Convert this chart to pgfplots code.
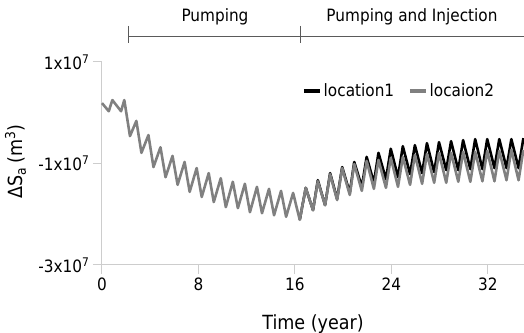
\documentclass[border=0pt]{standalone}
\usepackage{fontspec}
\setmainfont{DejaVu Sans}[FakeStretch=0.9]
\usepackage{pgfplots}
\pgfplotsset{compat=1.18}
\definecolor{axgray}{RGB}{205,205,205}
\definecolor{sergray}{RGB}{128,128,128}
\definecolor{anngray}{RGB}{90,90,90}
\begin{document}
\begin{tikzpicture}[font=\fontsize{17}{20}\selectfont]
\begin{axis}[
  name=ax,
  scale only axis, width=422pt, height=203pt,
  xmin=0, xmax=35, ymin=-3e7, ymax=1e7,
  axis lines*=left,
  axis line style={axgray, line width=1pt},
  tick style={axgray, line width=1pt},
  tick align=outside, major tick length=9pt,
  xtick={0,8,16,24,32},
  ytick={-3e7,-1e7,1e7},
  yticklabels={-3x10\textsuperscript{7},-1x10\textsuperscript{7},1x10\textsuperscript{7}},
  scaled y ticks=false,
  /pgf/number format/assume math mode=true,
  xlabel={Time (year)},
  ylabel={ΔS\textsubscript{a}\,(m\textsuperscript{3})},
  label style={font=\fontsize{19.5}{22}\selectfont},
  xlabel style={at={(axis description cs:0.5,-0.29)}, anchor=center},
  ylabel style={at={(axis description cs:-0.205,0.51)}, anchor=center},
  clip=false,
  legend style={at={(0.474,0.857)}, anchor=west, draw=none, fill=none,
    legend columns=-1, inner sep=0pt,
    /tikz/every even column/.append style={column sep=12pt}},
  legend image code/.code={\draw[#1, line width=3.5pt] (0pt,0pt) -- (16pt,0pt);},
]
\addplot[black, line width=2.6pt, line join=round] coordinates {
(16.4,-2.11e7) (16.9,-1.48e7) (17.5,-1.92e7) (17.9,-1.33e7) (18.5,-1.82e7)
(18.92,-1.19e7) (19.5,-1.70e7) (19.92,-1.07e7) (20.55,-1.58e7) (20.92,-0.97e7)
(21.55,-1.46e7) (21.95,-0.87e7) (22.55,-1.38e7) (22.93,-0.79e7) (23.55,-1.31e7)
(23.95,-0.71e7) (24.55,-1.27e7) (24.95,-0.66e7) (25.55,-1.21e7) (25.95,-0.64e7)
(26.55,-1.19e7) (26.95,-0.60e7) (27.55,-1.17e7) (27.95,-0.58e7) (28.55,-1.13e7)
(28.95,-0.56e7) (29.55,-1.13e7) (29.95,-0.54e7) (30.55,-1.11e7) (30.95,-0.52e7)
(31.55,-1.11e7) (31.95,-0.52e7) (32.55,-1.09e7) (32.95,-0.52e7) (33.55,-1.09e7)
(33.95,-0.52e7) (34.55,-1.09e7) (34.95,-0.50e7)
};
\addlegendentry{location1}
\addplot[sergray, line width=2.6pt, line join=round] coordinates {
(0,0.19e7) (0.56,0.03e7) (0.86,0.25e7) (1.58,0.03e7) (1.85,0.25e7)
(2.32,-0.46e7) (2.85,-0.16e7) (3.27,-0.79e7) (3.85,-0.44e7) (4.27,-1.07e7)
(4.85,-0.68e7) (5.27,-1.27e7) (5.85,-0.85e7) (6.27,-1.42e7) (6.85,-0.97e7)
(7.27,-1.56e7) (7.85,-1.09e7) (8.27,-1.66e7) (8.85,-1.19e7) (9.27,-1.76e7)
(9.85,-1.29e7) (10.27,-1.86e7) (10.85,-1.36e7) (11.27,-1.88e7) (11.85,-1.40e7)
(12.27,-1.96e7) (12.85,-1.46e7) (13.27,-1.98e7) (13.85,-1.50e7) (14.27,-2.02e7)
(14.85,-1.54e7) (15.27,-2.05e7) (15.85,-1.58e7) (16.4,-2.11e7) (16.9,-1.48e7)
(17.5,-1.92e7) (17.9,-1.35e7) (18.5,-1.82e7) (18.92,-1.21e7) (19.5,-1.72e7)
(19.92,-1.09e7) (20.55,-1.62e7) (20.92,-1.01e7) (21.55,-1.54e7) (21.95,-0.95e7)
(22.55,-1.50e7) (22.93,-0.93e7) (23.55,-1.48e7) (23.95,-0.89e7) (24.55,-1.46e7)
(24.95,-0.87e7) (25.55,-1.42e7) (25.95,-0.83e7) (26.55,-1.40e7) (26.95,-0.81e7)
(27.55,-1.38e7) (27.95,-0.79e7) (28.55,-1.38e7) (28.95,-0.79e7) (29.55,-1.36e7)
(29.95,-0.77e7) (30.55,-1.36e7) (30.95,-0.77e7) (31.55,-1.35e7) (31.95,-0.75e7)
(32.55,-1.35e7) (32.95,-0.75e7) (33.55,-1.33e7) (33.95,-0.73e7) (34.55,-1.33e7)
(34.95,-0.73e7)
};
\addlegendentry{locaion2}
\draw[anngray, line width=0.9pt] (axis cs:2.16,1.512e7) -- (axis cs:35,1.512e7);
\draw[anngray, line width=0.9pt] (axis cs:2.16,1.71e7) -- (axis cs:2.16,1.37e7);
\draw[anngray, line width=0.9pt] (axis cs:16.42,1.71e7) -- (axis cs:16.42,1.37e7);
\node[anchor=center] at (axis cs:9.37,1.89e7) {Pumping};
\node[anchor=center] at (axis cs:25.71,1.89e7) {Pumping and Injection};
\end{axis}
\pgfresetboundingbox
\path ([shift={(-102pt,-68pt)}]ax.south west) rectangle ([shift={(0pt,62pt)}]ax.north east);
\end{tikzpicture}
\end{document}
